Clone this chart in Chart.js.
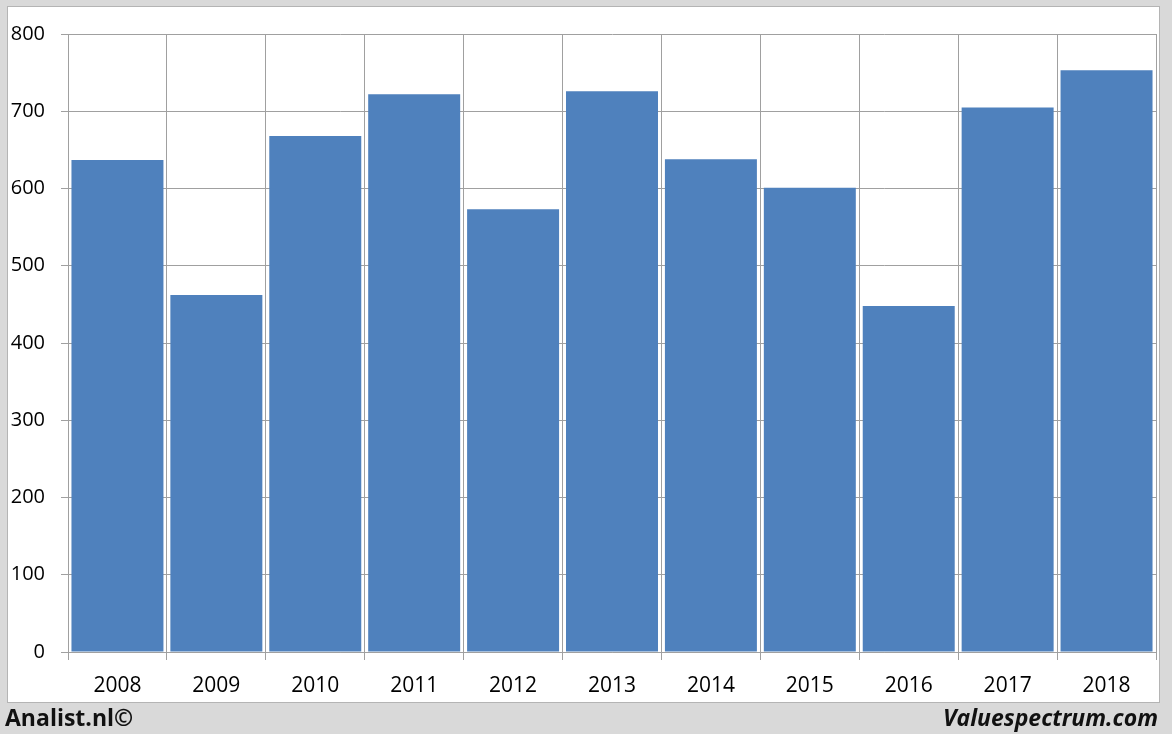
<!DOCTYPE html>
<html lang="en">
<head>
    <meta charset="UTF-8">
    <title>Yearly values</title>
    <script src="https://cdn.jsdelivr.net/npm/chart.js"></script>
    <style>
        body {
            margin: 0;
            width: 1172px;
            height: 734px;
            background-color: #d9d9d9;
            font-family: 'Open Sans', sans-serif;
            position: relative;
            overflow: hidden;
        }
        .panel {
            position: absolute;
            left: 7px;
            top: 6px;
            width: 1151px;
            height: 695px;
            background: #fff;
            border: 1px solid #b4b4b4;
        }
        #chart {
            position: absolute;
            left: 0;
            top: 0;
        }
        .footer {
            position: absolute;
            top: 701px;
            font-size: 23px;
            font-weight: bold;
            color: #111;
        }
        .left { left: 5px; }
        .right { right: 14px; font-style: italic; }
    </style>
</head>
<body>

<div class="panel"></div>
<canvas id="chart" width="1172" height="734"></canvas>
<div class="footer left">Analist.nl©</div>
<div class="footer right">Valuespectrum.com</div>

<script>
    // values
    const years = ['2008', '2009', '2010', '2011', '2012', '2013', '2014', '2015', '2016', '2017', '2018'];
    const values = [637, 462, 668, 722, 573, 726, 638, 601, 448, 705, 753];
    const yTicks = [0, 100, 200, 300, 400, 500, 600, 700, 800];

    const gridColor = '#a0a0a0';
    const tickFont = { family: "'Open Sans', sans-serif", size: 20 };

    new Chart(document.getElementById('chart'), {
        type: 'bar',
        data: {
            labels: years,
            datasets: [{
                data: values,
                backgroundColor: '#4f81bd',
                borderWidth: 0,
                barPercentage: 0.93,
                categoryPercentage: 1
            }]
        },
        options: {
            responsive: false,
            animation: false,
            layout: {
                padding: { left: 8, top: 34, right: 16, bottom: 32 }
            },
            scales: {
                x: {
                    afterFit: function(scale) { scale.height = 50; },
                    grid: { color: gridColor, tickLength: 8, offset: true },
                    border: { color: gridColor },
                    ticks: { color: '#000', font: { family: tickFont.family, size: 21 }, padding: 13, maxRotation: 0 }
                },
                y: {
                    min: 0,
                    max: 800,
                    afterFit: function(scale) { scale.width = 60; },
                    afterBuildTicks: function(scale) {
                        scale.ticks = yTicks.map(function(v) { return { value: v }; });
                    },
                    grid: { color: gridColor, tickLength: 7 },
                    border: { color: gridColor },
                    ticks: { color: '#000', font: tickFont, padding: 16 }
                }
            },
            plugins: {
                legend: { display: false },
                tooltip: { enabled: false }
            }
        }
    });
</script>

</body>
</html>
